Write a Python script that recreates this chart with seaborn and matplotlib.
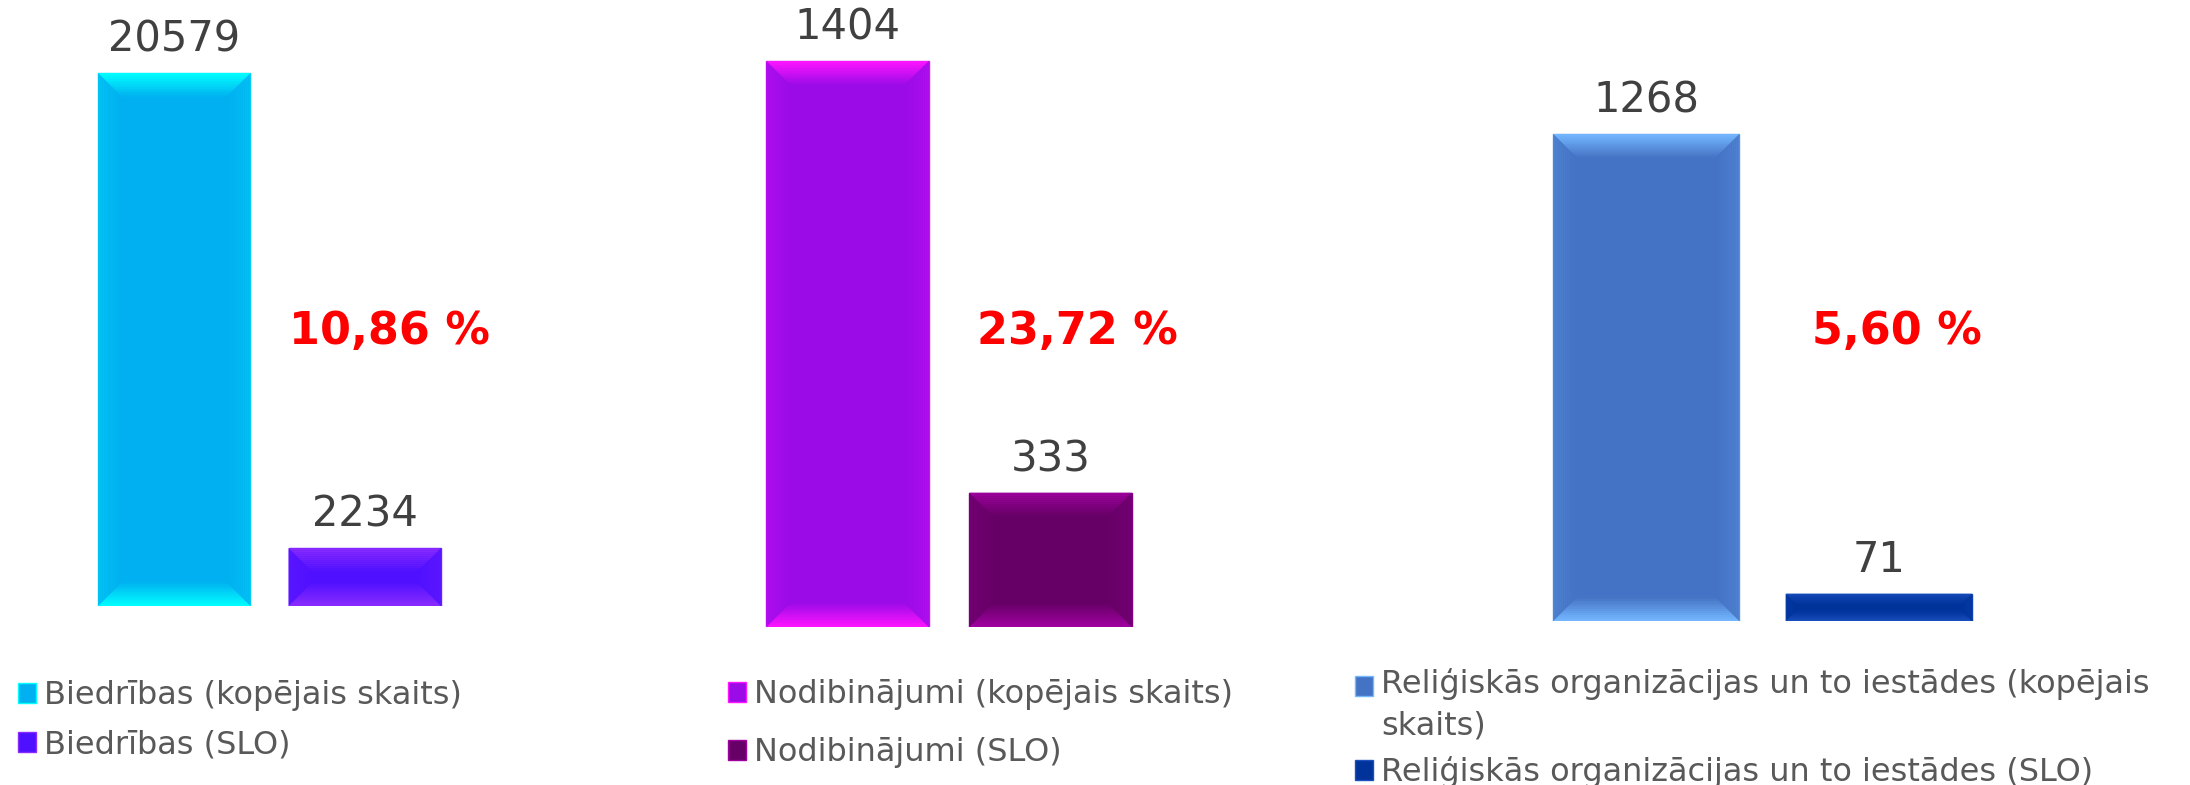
import matplotlib

matplotlib.use("Agg")
import matplotlib.pyplot as plt
import matplotlib.transforms as mtransforms
import numpy as np
import seaborn as sns
from matplotlib.colors import to_rgb
from matplotlib.patches import Patch, Polygon

GROUPS = ["Biedrības", "Nodibinājumi", "Reliģiskās organizācijas un to iestādes"]
SERIES = ["kopējais skaits", "SLO"]
TOTAL = [20579, 1404, 1268]
SLO = [2234, 333, 71]
SHARE = [10.86, 23.72, 5.60]
LEGEND_TOTAL = [
    "Biedrības (kopējais skaits)",
    "Nodibinājumi (kopējais skaits)",
    "Reliģiskās organizācijas un to iestādes (kopējais\nskaits)",
]
LEGEND_SLO = [
    "Biedrības (SLO)",
    "Nodibinājumi (SLO)",
    "Reliģiskās organizācijas un to iestādes (SLO)",
]

BASE = [("#00B0F0", "#4F10FF"), ("#9B0BE8", "#660066"), ("#4472C4", "#00339A")]
LIGHT = [("#00FFFF", "#8A2BFF"), ("#FF14FF", "#A000A0"), ("#74B8FF", "#1A4FC0")]

W, H = 2190, 785
# pixel layout of each panel: left, right, baseline (from top), height of the max bar
PANELS = [
    dict(x0=79, x1=460, base=606, bar=533, share_x=1.13, leg=(18, 680), spacing=0.58),
    dict(x0=746, x1=1152, base=627, bar=566, share_x=1.13, leg=(728, 679), spacing=0.85),
    dict(x0=1530, x1=1995, base=621, bar=487, share_x=1.08, leg=(1355, 668), spacing=0.45),
]


def mix(c1, c2, t):
    a, b = np.array(to_rgb(c1)), np.array(to_rgb(c2))
    return tuple(a * (1 - t) + b * t)


def bevel(ax, patch, base, light, steps=12):
    bb = patch.get_window_extent()
    x0, x1, yb, yt = bb.x0, bb.x1, bb.y0, bb.y1
    d = min(24, (yt - yb) * 0.42, (x1 - x0) * 0.3)
    ident = mtransforms.IdentityTransform()
    for i in range(steps):
        t0, t1 = d * i / steps, d * (i + 1) / steps
        f = (i + 0.5) / steps
        side = mix(light, base, 0.78 + 0.22 * f)
        edge = mix(light, base, f)
        polys = [
            ([(x0 + t0, yt - t0), (x0 + t1, yt - t1), (x0 + t1, yb + t1), (x0 + t0, yb + t0)], side),
            ([(x1 - t0, yt - t0), (x1 - t1, yt - t1), (x1 - t1, yb + t1), (x1 - t0, yb + t0)], side),
            ([(x0 + t0, yt - t0), (x1 - t0, yt - t0), (x1 - t1, yt - t1), (x0 + t1, yt - t1)], edge),
            ([(x0 + t0, yb + t0), (x1 - t0, yb + t0), (x1 - t1, yb + t1), (x0 + t1, yb + t1)], edge),
        ]
        for pts, col in polys:
            ax.add_artist(Polygon(pts, closed=True, facecolor=col, edgecolor="none",
                                  transform=ident, clip_on=False, zorder=3))


def panel(fig, i):
    p = PANELS[i]
    vmax = max(TOTAL[i], SLO[i])
    height = p["bar"] * 1.1
    ax = fig.add_axes([
        p["x0"] / W,
        1 - p["base"] / H,
        (p["x1"] - p["x0"]) / W,
        height / H,
    ])
    sns.barplot(
        x=SERIES,
        y=[TOTAL[i], SLO[i]],
        hue=SERIES,
        palette=list(BASE[i]),
        saturation=1,
        width=0.8,
        legend=False,
        ax=ax,
    )
    ax.set_xlim(-0.5, 1.5)
    ax.set_ylim(0, vmax * 1.1)
    ax.set_axis_off()

    for k, container in enumerate(ax.containers):
        for bar in container:
            bar.set_edgecolor(mix(BASE[i][k], LIGHT[i][k], 0.5))
            bar.set_linewidth(1)
            bevel(ax, bar, BASE[i][k], LIGHT[i][k])
        ax.bar_label(container, fmt="%d", padding=9, fontsize=30, color="#404040")

    share_tf = mtransforms.blended_transform_factory(ax.transData, fig.transFigure)
    ax.text(p["share_x"], 1 - 331 / H, f"{SHARE[i]:.2f}".replace(".", ",") + " %",
            transform=share_tf, ha="center", va="center",
            fontsize=32, fontweight="bold", color="#FF0000")

    handles = [
        Patch(facecolor=BASE[i][0], edgecolor=LIGHT[i][0]),
        Patch(facecolor=BASE[i][1], edgecolor=LIGHT[i][1]),
    ]
    lx, ly = p["leg"]
    leg = ax.legend(
        handles,
        [LEGEND_TOTAL[i], LEGEND_SLO[i]],
        loc="upper left",
        bbox_to_anchor=(lx / W, 1 - ly / H),
        bbox_transform=fig.transFigure,
        frameon=False,
        fontsize=23,
        labelcolor="#595959",
        handlelength=0.57,
        handleheight=0.57,
        handletextpad=0.25,
        borderpad=0,
        borderaxespad=0,
        labelspacing=p["spacing"],
    )
    for t in leg.get_texts():
        t.set_linespacing(1.45)
    # keep the square on the first line of a wrapped label
    for t, h in zip(leg.get_texts(), leg.legend_handles):
        n = t.get_text().count("\n")
        if n:
            h.set_y(h.get_y() + 14 * n)
    return ax


def main():
    sns.set_theme(style="white")
    plt.rcParams["font.family"] = ["DejaVu Sans"]
    fig = plt.figure(figsize=(W / 100, H / 100), dpi=100)
    for i in range(len(GROUPS)):
        panel(fig, i)
    fig.savefig("out.png", dpi=100, facecolor="white")
    plt.close(fig)


if __name__ == "__main__":
    main()
